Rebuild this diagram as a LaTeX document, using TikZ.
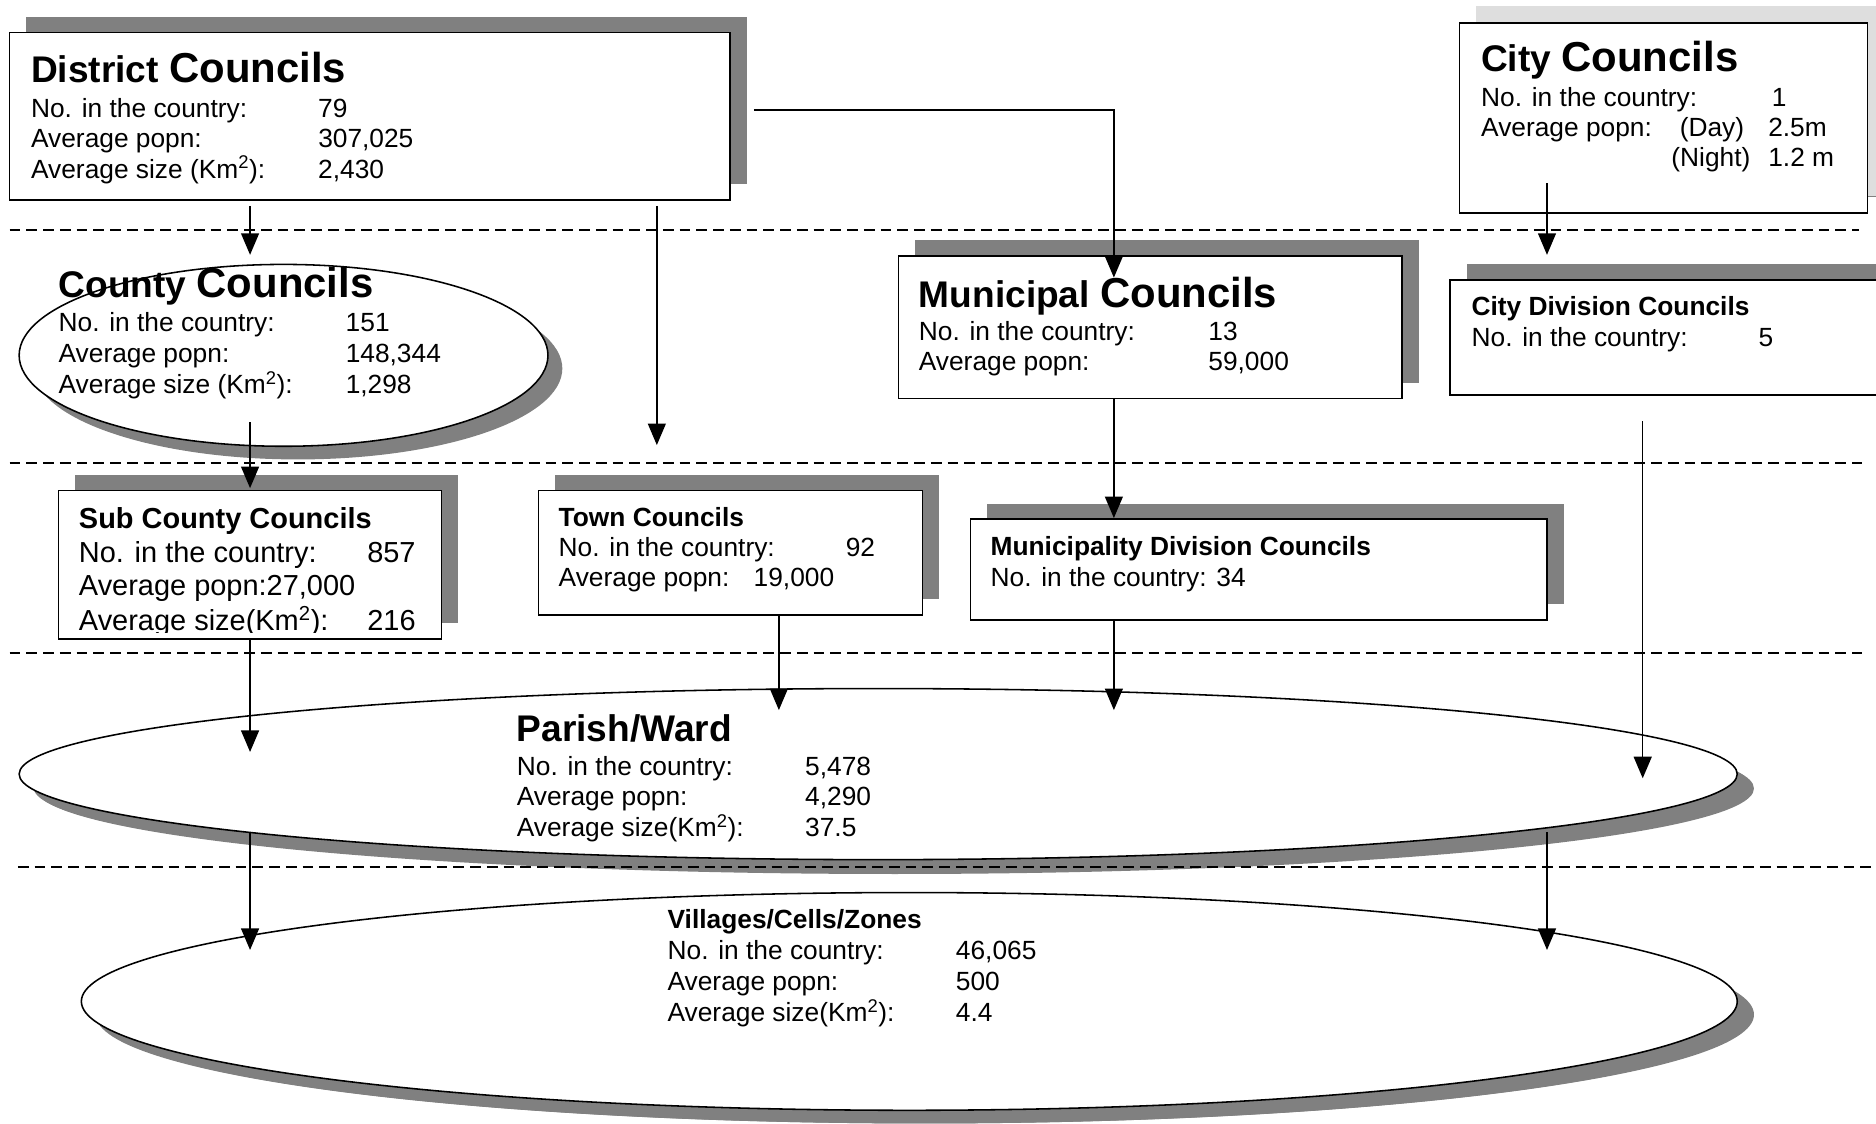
\documentclass[tikz,border=0pt]{standalone}
\usepackage{fontspec}
\setmainfont{Liberation Sans}
\usetikzlibrary{arrows.meta,calc,shadows,shapes.geometric}

\definecolor{shadowgray}{RGB}{128,128,128}
\definecolor{lightshadow}{RGB}{222,222,222}

\newcommand{\bigtitle}[2]{{\fontsize{31}{35}\selectfont\bfseries #1\ }{\fontsize{35}{40}\selectfont\bfseries #2}}
\newcommand{\infofont}{\fontsize{22}{25}\selectfont}

\tikzset{
  unitbox/.style={draw, line width=1.3pt, fill=white, rectangle, anchor=north west,
    inner sep=0pt, outer sep=0pt,
    drop shadow={shadow xshift=14pt, shadow yshift=13pt, fill=shadowgray, opacity=1}},
  levelellipse/.style={draw, line width=1.3pt, fill=white, ellipse, inner sep=0pt, outer sep=0pt,
    drop shadow={shadow xshift=12pt, shadow yshift=-11pt, fill=shadowgray, opacity=1}},
  info/.style={anchor=base west, inner sep=0pt, outer sep=0pt},
  flow/.style={line width=1.2pt, -{Triangle[length=18pt,width=15pt]}},
  levelline/.style={line width=1.6pt, dash pattern=on 9pt off 5pt}
}

\begin{document}
\begin{tikzpicture}[x=1pt,y=-1pt]

\def\valcol{240pt}

\useasboundingbox (0,0) rectangle (1568,939);
\clip (0,0) rectangle (1568,939);

% columns of the arrows
\coordinate (xA) at (209,0);
\coordinate (xB) at (549,0);
\coordinate (xC) at (931,0);
\coordinate (xD) at (1293,0);
\coordinate (xE) at (651,0);
\coordinate (xF) at (1373,0);

% level shapes
\node[unitbox, minimum width=602pt, minimum height=140pt] (district) at (8,27) {};
\node[unitbox, minimum width=341pt, minimum height=159pt,
  drop shadow={shadow xshift=14pt, shadow yshift=14pt, fill=lightshadow, opacity=1}] (city) at (1220,19) {};
\node[levelellipse, minimum width=442pt, minimum height=152pt] (county) at (237,297) {};
\node[unitbox, minimum width=421pt, minimum height=119pt] (municipal) at (751,214) {};
\node[unitbox, minimum width=380pt, minimum height=96pt] (citydiv) at (1212,234) {};
\node[unitbox, minimum width=320pt, minimum height=124pt] (subcounty) at (49,410) {};
\node[unitbox, minimum width=321pt, minimum height=104pt] (town) at (450,410) {};
\node[unitbox, minimum width=482pt, minimum height=84pt] (munidiv) at (811,434) {};
\node[levelellipse, minimum width=1436pt, minimum height=143pt,
  drop shadow={shadow xshift=14pt, shadow yshift=-12pt, fill=shadowgray, opacity=1}] (parish) at (734,647) {};
\node[levelellipse, minimum width=1384pt, minimum height=182pt,
  drop shadow={shadow xshift=14pt, shadow yshift=-11pt, fill=shadowgray, opacity=1}] (villages) at (760,837) {};

% texts
\node[info] (district-title) at (26,69) {\bigtitle{District}{Councils}};
\node[info] (district-info) at (26,98) {\infofont
  \begin{tabular}[t]{@{}p{\valcol}@{}l@{}}
  No. in the country: & 79\\
  Average popn: & 307,025\\
  Average size (Km\textsuperscript{2}): & 2,430
  \end{tabular}};

\node[info] (city-title) at (1238,60) {\bigtitle{City}{Councils}};
\node[info] (city-info) at (1238,89) {\infofont
  \begin{tabular}[t]{@{}l@{}}
  \makebox[243pt][l]{No. in the country:}1\\
  \makebox[159pt][l]{Average popn:}\makebox[81pt][l]{\hspace{7pt}(Day)}2.5m\\
  \hspace{159pt}\makebox[81pt][l]{(Night)}1.2 m
  \end{tabular}};

\node[info] (county-title) at (49,249) {\bigtitle{County}{Councils}};
\node[info] (county-info) at (49,277) {\fontsize{22}{26}\selectfont
  \begin{tabular}[t]{@{}p{\valcol}@{}l@{}}
  No. in the country: & 151\\
  Average popn: & 148,344\\
  Average size (Km\textsuperscript{2}): & 1,298
  \end{tabular}};

\node[info] (municipal-title) at (768,257) {\bigtitle{Municipal}{Councils}};
\node[info] (municipal-info) at (768,285) {\infofont
  \begin{tabular}[t]{@{}p{242pt}@{}l@{}}
  No. in the country: & 13\\
  Average popn: & 59,000
  \end{tabular}};

\node[info] (citydiv-title) at (1230,264) {\infofont\bfseries City Division Councils};
\node[info] (citydiv-info) at (1230,290) {\infofont
  \begin{tabular}[t]{@{}p{\valcol}@{}l@{}}
  No. in the country: & 5
  \end{tabular}};

\begin{scope}
  \clip (49,410) rectangle (369,529);
  \node[info] (subcounty-title) at (66,442) {\fontsize{24.2}{28}\selectfont\bfseries Sub County Councils};
  \node[info] (subcounty-info) at (66,470) {\fontsize{24.2}{28}\selectfont
    \begin{tabular}[t]{@{}p{241pt}@{}l@{}}
    No. in the country: & 857\\
    \multicolumn{2}{@{}l@{}}{Average popn:27,000}\\
    Average size(Km\textsuperscript{2}): & 216
    \end{tabular}};
\end{scope}

\node[info] (town-title) at (467,440) {\infofont\bfseries Town Councils};
\node[info] (town-info) at (467,465) {\infofont
  \begin{tabular}[t]{@{}l@{}}
  \makebox[\valcol][l]{No. in the country:}92\\
  \makebox[163pt][l]{Average popn:}19,000
  \end{tabular}};

\node[info] (munidiv-title) at (828,464) {\infofont\bfseries Municipality Division Councils};
\node[info] (munidiv-info) at (828,490) {\infofont No. in the country: 34};

\node[info] (parish-title) at (432,620) {\fontsize{31}{35}\selectfont\bfseries Parish/Ward};
\node[info] (parish-info) at (432,648) {\infofont
  \begin{tabular}[t]{@{}p{241pt}@{}l@{}}
  No. in the country: & 5,478\\
  Average popn: & 4,290\\
  Average size(Km\textsuperscript{2}): & 37.5
  \end{tabular}};

\node[info] (villages-title) at (558,776) {\infofont\bfseries Villages/Cells/Zones};
\node[info] (villages-info) at (558,802) {\fontsize{22}{25.5}\selectfont
  \begin{tabular}[t]{@{}p{241pt}@{}l@{}}
  No. in the country: & 46,065\\
  Average popn: & 500\\
  Average size(Km\textsuperscript{2}): & 4.4
  \end{tabular}};

% level separators
\draw[levelline] (8,192) -- (1554,192);
\draw[levelline] (8,387) -- (1556,387);
\draw[levelline] (8,546) -- (1556,546);
\draw[levelline] (15,725) -- (1568,725);

% arrows
\draw[flow] ($(district.south -| xA)+(0,5)$) -- ($(county.north -| xA)+(0,-8)$);
\draw[flow] ($(district.south -| xB)+(0,5)$) -- ($(town.north -| xB)+(0,-38)$);
\draw[flow] ($(district.east)+(20,-5)$) -| ($(municipal.north -| xC)+(0,18)$);
\draw[flow] ($(city.south -| xD)+(0,-25)$) -- ($(citydiv.north -| xD)+(0,-21)$);
\draw[flow] ($(county.south -| xA)+(0,-20)$) -- ($(subcounty.north -| xA)+(0,-2)$);
\draw[flow] (municipal.south -| xC) -- ($(munidiv.north -| xC)+(0,-1)$);
\draw[flow] (subcounty.south -| xA) -- ($(parish.north -| xA)+(0,53)$);
\draw[flow] (town.south -| xE) -- ($(parish.north -| xE)+(0,18)$);
\draw[flow] (munidiv.south -| xC) -- ($(parish.north -| xC)+(0,18)$);
\draw[flow] ($(citydiv.south -| xF)+(0,22)$) -- ($(parish.north -| xF)+(0,75)$);
\draw[flow] ($(parish.south -| xA)+(0,-23)$) -- ($(villages.north -| xA)+(0,48)$);
\draw[flow] ($(parish.south -| xD)+(0,-23)$) -- ($(villages.north -| xD)+(0,48)$);

\end{tikzpicture}
\end{document}
